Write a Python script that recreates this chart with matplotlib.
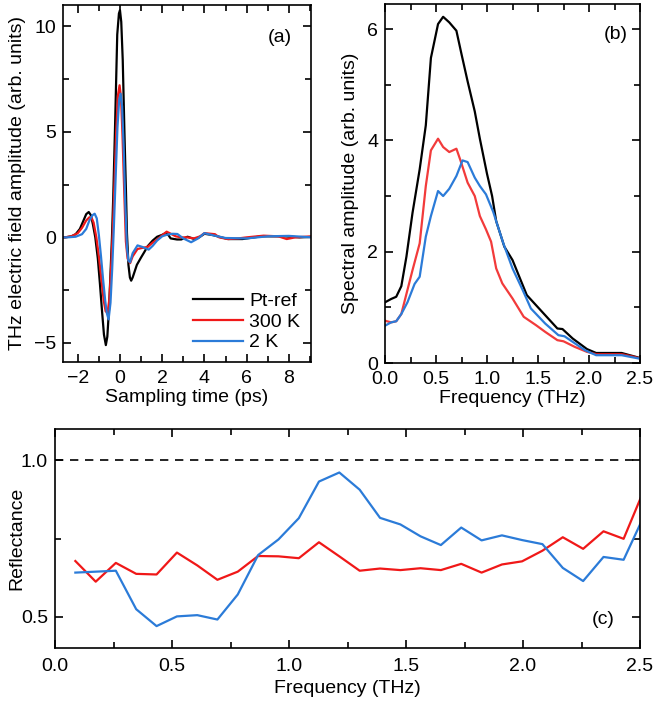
import matplotlib
matplotlib.use('Agg')
import matplotlib.pyplot as plt
from matplotlib.ticker import MultipleLocator

plt.rcParams['font.family'] = ['Liberation Sans', 'DejaVu Sans']
plt.rcParams['font.size'] = 14

RED = '#f01818'
BLUE = '#2b7bd8'

# (a) time-domain traces
t_ref = [-3.0, -2.6, -2.3, -2.1, -1.9, -1.75, -1.6, -1.48, -1.38, -1.28, -1.17, -1.05, -0.95,
         -0.85, -0.76, -0.67, -0.6, -0.52, -0.45, -0.38, -0.32, -0.24, -0.13, -0.05, 0.0, 0.06,
         0.13, 0.21, 0.29, 0.33, 0.4, 0.47, 0.53, 0.6, 0.7, 0.8, 1.0, 1.15, 1.31, 1.55, 1.76,
         2.0, 2.16, 2.3, 2.4, 2.7, 2.9, 3.2, 3.53, 3.75, 4.0, 4.4, 4.8, 5.13, 5.8, 6.7, 7.8,
         8.5, 9.1]
e_ref = [0.0, 0.0, 0.05, 0.15, 0.4, 0.75, 1.1, 1.2, 1.05, 0.6, 0.0, -1.0, -2.2,
         -3.5, -4.6, -5.1, -4.7, -3.4, -1.7, 0.0, 1.9, 5.0, 9.6, 10.6, 10.75, 10.2,
         8.4, 5.0, 1.9, 0.2, -1.3, -1.9, -2.05, -1.9, -1.6, -1.3, -0.95, -0.7, -0.42, -0.15, 0.03,
         0.12, 0.2, 0.1, -0.05, -0.1, -0.1, 0.03, -0.08, 0.0, 0.17, 0.11, 0.0, -0.08, -0.08, 0.05, 0.05,
         0.0, 0.02]

t_300 = [-3.0, -2.6, -2.3, -2.0, -1.8, -1.6, -1.45, -1.36, -1.25, -1.12, -1.0, -0.88, -0.77,
         -0.68, -0.59, -0.5, -0.42, -0.34, -0.26, -0.18, -0.1, -0.02, 0.05, 0.12, 0.2, 0.28,
         0.36, 0.48, 0.6, 0.83, 1.05, 1.31, 1.55, 1.76, 2.0, 2.21, 2.45, 2.64, 2.9, 3.2, 3.5,
         3.8, 4.0, 4.5, 4.7, 5.1, 5.6, 6.0, 6.8, 7.5, 7.9, 8.3, 9.1]
e_300 = [0.0, 0.0, 0.05, 0.2, 0.45, 0.8, 0.95, 0.96, 0.7, 0.0, -0.9, -2.0, -3.0,
         -3.5, -3.57, -2.9, -1.4, 0.3, 2.6, 5.0, 6.7, 7.2, 6.6, 4.8, 2.2, -0.2,
         -1.0, -1.22, -0.9, -0.55, -0.5, -0.45, -0.25, -0.1, 0.1, 0.27, 0.15, 0.05, 0.0, 0.0, -0.05,
         0.05, 0.2, 0.15, 0.0, -0.08, -0.05, 0.0, 0.08, 0.05, -0.08, 0.0, 0.05]

t_2k = [-3.0, -2.5, -2.1, -1.8, -1.6, -1.45, -1.3, -1.2, -1.1, -1.0, -0.9, -0.8, -0.7,
        -0.62, -0.54, -0.45, -0.37, -0.29, -0.2, -0.12, -0.04, 0.03, 0.1, 0.17, 0.25, 0.33,
        0.4, 0.48, 0.6, 0.83, 1.05, 1.36, 1.55, 1.76, 2.0, 2.24, 2.5, 2.72, 3.0, 3.37, 3.7,
        4.0, 4.4, 5.0, 6.0, 7.0, 8.0, 9.1]
e_2k = [0.0, 0.0, 0.03, 0.15, 0.4, 0.8, 1.05, 1.12, 0.9, 0.1, -0.9, -2.0, -3.0,
        -3.6, -3.88, -3.1, -1.5, 0.5, 3.0, 5.2, 6.5, 6.8, 6.2, 4.4, 1.6, -0.5,
        -1.1, -1.18, -0.75, -0.38, -0.45, -0.58, -0.4, -0.15, 0.05, 0.13, 0.17, 0.16, -0.05, -0.23, -0.05,
        0.2, 0.1, -0.03, -0.05, 0.05, 0.07, 0.0]

# (b) spectral amplitude
f_ref = [0.0, 0.06, 0.11, 0.16, 0.21, 0.27, 0.34, 0.40, 0.45, 0.52, 0.57, 0.63, 0.70, 0.75,
         0.81, 0.88, 0.93, 1.0, 1.05, 1.09, 1.17, 1.25, 1.39, 1.51, 1.69, 1.74, 1.84, 1.98,
         2.07, 2.32, 2.46, 2.5]
a_ref = [1.09, 1.15, 1.19, 1.38, 1.91, 2.70, 3.48, 4.27, 5.48, 6.09, 6.22, 6.12, 5.97, 5.55,
         5.06, 4.52, 4.03, 3.4, 3.0, 2.55, 2.09, 1.85, 1.22, 0.98, 0.62, 0.61, 0.44, 0.25,
         0.18, 0.18, 0.11, 0.09]

f_300 = [0.0, 0.06, 0.11, 0.16, 0.21, 0.27, 0.34, 0.40, 0.45, 0.52, 0.57, 0.63, 0.70, 0.74,
         0.81, 0.88, 0.93, 0.99, 1.04, 1.09, 1.15, 1.25, 1.36, 1.48, 1.57, 1.69, 1.75, 1.86,
         1.98, 2.07, 2.32, 2.45, 2.5]
a_300 = [0.76, 0.73, 0.75, 0.88, 1.24, 1.67, 2.15, 3.18, 3.82, 4.03, 3.88, 3.79, 3.85, 3.64,
         3.24, 3.0, 2.64, 2.4, 2.18, 1.70, 1.43, 1.16, 0.83, 0.68, 0.56, 0.41, 0.39, 0.29,
         0.20, 0.16, 0.16, 0.11, 0.08]

f_2k = [0.0, 0.06, 0.11, 0.16, 0.22, 0.29, 0.34, 0.40, 0.45, 0.52, 0.57, 0.63, 0.70, 0.76,
        0.81, 0.88, 0.93, 0.99, 1.06, 1.16, 1.25, 1.35, 1.43, 1.57, 1.70, 1.76, 1.96, 2.07,
        2.32, 2.49]
a_2k = [0.67, 0.73, 0.75, 0.88, 1.09, 1.42, 1.55, 2.27, 2.64, 3.09, 3.0, 3.13, 3.36, 3.64,
        3.61, 3.33, 3.18, 3.03, 2.72, 2.15, 1.70, 1.31, 0.98, 0.71, 0.50, 0.48, 0.23, 0.14,
        0.14, 0.08]

# (c) reflectance
f_refl = [0.087, 0.174, 0.26, 0.347, 0.434, 0.521, 0.608, 0.694, 0.781, 0.868, 0.955,
          1.042, 1.128, 1.215, 1.302, 1.389, 1.476, 1.562, 1.649, 1.736, 1.823, 1.91,
          1.996, 2.083, 2.17, 2.257, 2.344, 2.43, 2.517]
r_300 = [0.678, 0.612, 0.672, 0.637, 0.635, 0.705, 0.664, 0.618, 0.644, 0.694, 0.693,
         0.687, 0.738, 0.693, 0.647, 0.654, 0.649, 0.655, 0.649, 0.669, 0.641, 0.667,
         0.677, 0.711, 0.754, 0.717, 0.773, 0.749, 0.905]
r_2k = [0.641, 0.644, 0.647, 0.524, 0.470, 0.501, 0.505, 0.491, 0.571, 0.697, 0.747,
        0.815, 0.932, 0.961, 0.906, 0.816, 0.795, 0.757, 0.729, 0.785, 0.744, 0.760,
        0.745, 0.732, 0.656, 0.614, 0.691, 0.682, 0.822]


def style(ax, xpad=5):
    ax.tick_params(which='both', direction='in', top=True, right=True, width=1.2)
    ax.tick_params(which='major', length=6, pad=5)
    ax.tick_params(axis='x', which='major', pad=xpad)
    ax.tick_params(which='minor', length=4)
    for s in ax.spines.values():
        s.set_linewidth(1.2)


W, H = 654, 705
fig = plt.figure(figsize=(W / 100, H / 100), dpi=100)


def box(l, t, r, b):
    return [l / W, 1 - b / H, (r - l) / W, (b - t) / H]


ax1 = fig.add_axes(box(63, 5, 311, 362))
ax1.plot(t_ref, e_ref, color='black', lw=1.6, label='Pt-ref')
ax1.plot(t_300, e_300, color=RED, lw=1.6, label='300 K')
ax1.plot(t_2k, e_2k, color=BLUE, lw=1.6, label='2 K')
ax1.set_xlim(-2.7, 9.05)
ax1.set_ylim(-5.9, 11)
ax1.xaxis.set_major_locator(MultipleLocator(2))
ax1.xaxis.set_minor_locator(MultipleLocator(1))
ax1.yaxis.set_major_locator(MultipleLocator(5))
ax1.yaxis.set_minor_locator(MultipleLocator(2.5))
ax1.set_xlabel('Sampling time (ps)', labelpad=1)
ax1.set_ylabel('THz electric field amplitude (arb. units)')
ax1.yaxis.set_label_coords(-0.149, 0.5)
ax1.text(0.923, 0.91, '(a)', transform=ax1.transAxes, ha='right', va='center')
ax1.legend(loc='lower right', frameon=False, handlelength=2.6, handletextpad=0.3,
           labelspacing=0.15, borderaxespad=0.15)
style(ax1, xpad=6)

ax2 = fig.add_axes(box(385, 4, 640, 363))
ax2.plot(f_ref, a_ref, color='black', lw=1.6)
ax2.plot(f_300, a_300, color=RED, lw=1.6, alpha=0.85)
ax2.plot(f_2k, a_2k, color=BLUE, lw=1.6)
ax2.set_xlim(0, 2.5)
ax2.set_ylim(0, 6.45)
ax2.xaxis.set_major_locator(MultipleLocator(0.5))
ax2.xaxis.set_minor_locator(MultipleLocator(0.25))
ax2.yaxis.set_major_locator(MultipleLocator(2))
ax2.yaxis.set_minor_locator(MultipleLocator(1))
ax2.set_xlabel('Frequency (THz)', labelpad=1)
ax2.set_ylabel('Spectral amplitude (arb. units)')
ax2.yaxis.set_label_coords(-0.102, 0.5)
ax2.text(0.953, 0.916, '(b)', transform=ax2.transAxes, ha='right', va='center')
style(ax2, xpad=6)

ax3 = fig.add_axes(box(55, 429, 640, 648))
ax3.axhline(1.0, color='black', lw=1.2, ls=(0, (5, 4)))
ax3.plot(f_refl, r_300, color=RED, lw=1.6)
ax3.plot(f_refl, r_2k, color=BLUE, lw=1.6)
ax3.set_xlim(0, 2.5)
ax3.set_ylim(0.4, 1.1)
ax3.xaxis.set_major_locator(MultipleLocator(0.5))
ax3.xaxis.set_minor_locator(MultipleLocator(0.25))
ax3.yaxis.set_major_locator(MultipleLocator(0.5))
ax3.yaxis.set_minor_locator(MultipleLocator(0.25))
ax3.set_xlabel('Frequency (THz)', labelpad=4)
ax3.set_ylabel('Reflectance')
ax3.yaxis.set_label_coords(-0.05, 0.5)
ax3.text(0.957, 0.128, '(c)', transform=ax3.transAxes, ha='right', va='center')
style(ax3, xpad=7)

fig.savefig('out.png', dpi=100)
